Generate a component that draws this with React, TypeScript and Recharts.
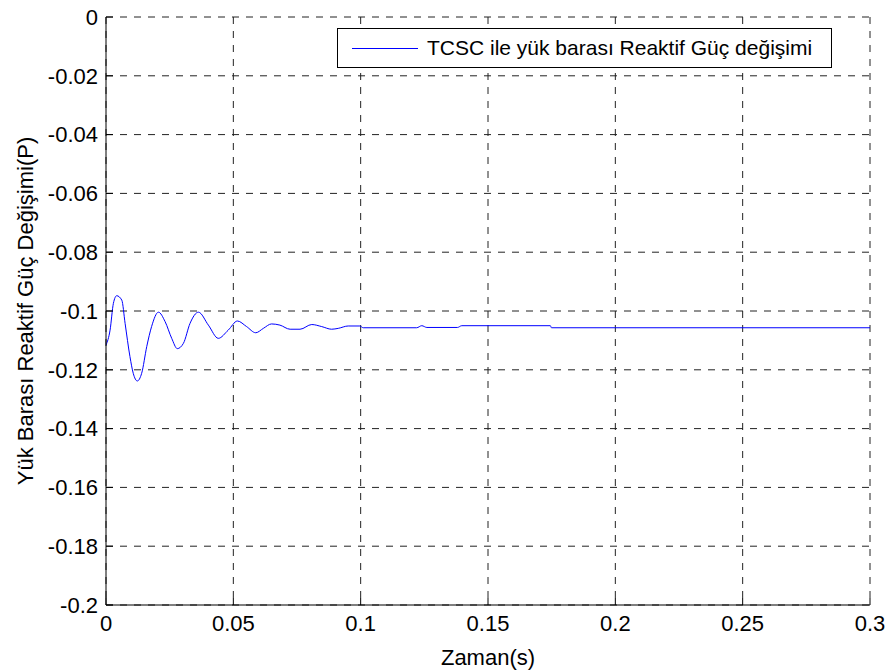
import React from 'react';
import { LineChart, Line, XAxis, YAxis, CartesianGrid, Legend } from 'recharts';

const timeValues = [0, 0.0016, 0.0029, 0.0042, 0.0062, 0.0075, 0.0094, 0.0107, 0.0123, 0.014, 0.016, 0.0179, 0.0206, 0.0232, 0.0258, 0.028, 0.0304, 0.033, 0.0363, 0.0402, 0.0441, 0.048, 0.0516, 0.0552, 0.0588, 0.0618, 0.065, 0.0683, 0.0723, 0.0762, 0.0808, 0.0847, 0.0886, 0.0912, 0.0951, 0.0997, 0.101, 0.122, 0.124, 0.126, 0.138, 0.1397, 0.1745, 0.1749, 0.3];
const powerValues = [-0.1116, -0.1065, -0.0974, -0.0948, -0.0963, -0.1042, -0.1155, -0.1212, -0.1238, -0.1212, -0.1121, -0.1053, -0.1004, -0.1036, -0.1093, -0.1128, -0.111, -0.1042, -0.1004, -0.1048, -0.1093, -0.1065, -0.1034, -0.1053, -0.1074, -0.1059, -0.1044, -0.1048, -0.1062, -0.1062, -0.1046, -0.1053, -0.1062, -0.1059, -0.1051, -0.1051, -0.1057, -0.1057, -0.105, -0.1056, -0.1056, -0.105, -0.105, -0.1057, -0.1057];

const xTicks = [0, 0.05, 0.1, 0.15, 0.2, 0.25, 0.3];
const yTicks = [-0.2, -0.18, -0.16, -0.14, -0.12, -0.1, -0.08, -0.06, -0.04, -0.02, 0];

const seriesName = 'TCSC ile yük barası Reaktif Güç değişimi';
const xTitle = 'Zaman(s)';
const yTitle = 'Yük Barası Reaktif Güç Değişimi(P)';

const data = timeValues.map((t, i) => ({ t, v: powerValues[i] }));

const FONT = '"Liberation Sans", Arial, sans-serif';

const renderLegend = () => (
  <div
    style={{
      border: '1px solid #000',
      background: '#fff',
      width: 493,
      height: 38,
      display: 'flex',
      alignItems: 'center',
      fontFamily: FONT,
      fontSize: 21,
      color: '#000',
      boxSizing: 'content-box',
    }}
  >
    <div style={{ width: 66, height: 0, borderTop: '1px solid #0000ff', marginLeft: 14, marginRight: 9 }} />
    <span style={{ whiteSpace: 'nowrap' }}>{seriesName}</span>
  </div>
);

export default function App() {
  return (
    <div style={{ position: 'absolute', left: 0, top: 0, background: '#fff' }}>
      <LineChart width={890} height={671} data={data} margin={{ top: 17, right: 20, left: 0, bottom: 0 }}>
        <CartesianGrid stroke="#222" strokeDasharray="7 7" strokeWidth={1} horizontal vertical />
        <XAxis
          dataKey="t"
          type="number"
          domain={[0, 0.3]}
          ticks={xTicks}
          allowDataOverflow
          height={66}
          tickSize={-7}
          tickMargin={17}
          stroke="#000"
          tick={{ fill: '#000', fontSize: 22, fontFamily: FONT }}
          tickFormatter={(v: number) => String(v)}
          label={{ value: xTitle, position: 'insideBottom', offset: 6, fill: '#000', fontSize: 22, fontFamily: FONT }}
        />
        <XAxis
          xAxisId="top"
          orientation="top"
          type="number"
          domain={[0, 0.3]}
          ticks={xTicks}
          allowDataOverflow
          height={0}
          tickSize={-7}
          tick={false}
          stroke="#000"
        />
        <YAxis
          type="number"
          domain={[-0.2, 0]}
          ticks={yTicks}
          allowDataOverflow
          width={106}
          tickSize={-7}
          tickMargin={15}
          stroke="#000"
          tick={{ fill: '#000', fontSize: 22, fontFamily: FONT }}
          tickFormatter={(v: number) => String(v)}
          label={{ value: yTitle, angle: -90, position: 'insideLeft', offset: 25, fill: '#000', fontSize: 22, fontFamily: FONT, style: { textAnchor: 'middle' } }}
        />
        <YAxis
          yAxisId="right"
          orientation="right"
          type="number"
          domain={[-0.2, 0]}
          ticks={yTicks}
          allowDataOverflow
          width={0}
          tickSize={-7}
          tick={false}
          stroke="#000"
        />
        <Legend
          layout="horizontal"
          verticalAlign="middle"
          align="center"
          content={renderLegend}
          wrapperStyle={{ position: 'absolute', left: 337, top: 28, width: 'auto' }}
        />
        <Line
          type="monotone"
          dataKey="v"
          name={seriesName}
          stroke="#0000ff"
          strokeWidth={1}
          dot={false}
          activeDot={false}
          isAnimationActive={false}
        />
      </LineChart>
    </div>
  );
}
